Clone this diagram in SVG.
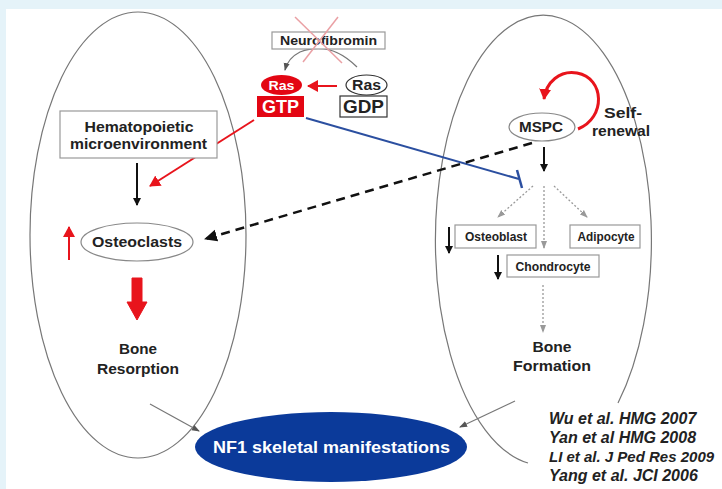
<svg xmlns="http://www.w3.org/2000/svg" width="722" height="489" viewBox="0 0 722 489">
<defs>
<style>
text{font-family:"Liberation Sans",Arial,sans-serif;font-weight:bold;fill:#222;text-anchor:middle}
.thin{fill:none;stroke:#777;stroke-width:1.2}
.box{fill:#fff;stroke:#999;stroke-width:1.2}
.blk{fill:none;stroke:#111;stroke-width:2}
.dot{fill:none;stroke:#999;stroke-width:1.3;stroke-dasharray:2 2}
.ref{font-style:italic;text-anchor:start;font-size:16px}
</style>
<marker id="ah" markerWidth="8" markerHeight="8" refX="7" refY="4" orient="auto" markerUnits="userSpaceOnUse"><path d="M0,0 L8,4 L0,8 Z" fill="#111"/></marker>
<marker id="ahg" markerWidth="8" markerHeight="8" refX="7" refY="4" orient="auto" markerUnits="userSpaceOnUse"><path d="M0,1 L8,4 L0,7 Z" fill="#555"/></marker>
<marker id="ahd" markerWidth="8" markerHeight="8" refX="7" refY="4" orient="auto" markerUnits="userSpaceOnUse"><path d="M0,1 L8,4 L0,7 Z" fill="#999"/></marker>
<marker id="ahr" markerWidth="12" markerHeight="12" refX="10" refY="6" orient="auto" markerUnits="userSpaceOnUse"><path d="M0,0 L11,6 L0,12 Z" fill="#e8141c"/></marker>
<marker id="ahk" markerWidth="14" markerHeight="14" refX="12" refY="7" orient="auto" markerUnits="userSpaceOnUse"><path d="M0,1 L13,7 L0,13 Z" fill="#111"/></marker>
</defs>
<rect width="722" height="489" fill="#e5f3f9"/>
<rect x="6" y="9" width="716" height="480" fill="#fff"/>

<g id="compartments">
<ellipse cx="138" cy="235" rx="108" ry="223" fill="none" stroke="#777" stroke-width="1.2"/>
<path d="M618,403 A108,225 0 1 0 528,463" fill="none" stroke="#777" stroke-width="1.2"/>
</g>

<g id="connectors">
<path d="M357,67 Q330,40 300,52 Q288,58 285,70" class="thin" marker-end="url(#ahg)"/>
<line x1="337" y1="86" x2="308" y2="86" stroke="#e8141c" stroke-width="2" marker-end="url(#ahr)"/>
<line x1="254" y1="120" x2="150" y2="186" stroke="#e8141c" stroke-width="2" marker-end="url(#ahr)"/>
<line x1="306" y1="118" x2="519" y2="179" stroke="#2b4fa0" stroke-width="2"/>
<line x1="517" y1="170" x2="522" y2="188" stroke="#2b4fa0" stroke-width="2.5"/>
<line x1="137" y1="163" x2="137" y2="205" class="blk" marker-end="url(#ah)"/>
<line x1="69" y1="260" x2="69" y2="227" stroke="#e8141c" stroke-width="2" marker-end="url(#ahr)"/>
<line x1="532" y1="143" x2="205" y2="239" stroke="#111" stroke-width="2.5" stroke-dasharray="9 6" marker-end="url(#ahk)"/>
<path d="M132,278 L142,278 L142,302 L147,302 L137,320 L127,302 L132,302 Z" fill="#e8141c" stroke="#e8141c" stroke-width="1" stroke-linejoin="round"/>
<line x1="150" y1="404" x2="199" y2="431" class="thin" marker-end="url(#ahg)"/>
<path d="M578,129 C606,118 605,78 577,73 C560,70 546,82 544,99" fill="none" stroke="#e8141c" stroke-width="3" marker-end="url(#ahr)"/>
<line x1="544" y1="147" x2="544" y2="171" class="blk" marker-end="url(#ah)"/>
<line x1="533" y1="186" x2="498" y2="217" class="dot" marker-end="url(#ahd)"/>
<line x1="544" y1="186" x2="544" y2="248" class="dot" marker-end="url(#ahd)"/>
<line x1="554" y1="186" x2="587" y2="217" class="dot" marker-end="url(#ahd)"/>
<line x1="449" y1="227" x2="449" y2="253" class="blk" marker-end="url(#ah)"/>
<line x1="498" y1="255" x2="498" y2="279" class="blk" marker-end="url(#ah)"/>
<line x1="543" y1="285" x2="543" y2="332" class="dot" marker-end="url(#ahd)"/>
<line x1="515" y1="401" x2="460" y2="427" class="thin" marker-end="url(#ahg)"/>
</g>

<g id="neurofibromin">
<rect x="272" y="32" width="113" height="17" class="box"/>
<text x="328.5" y="45" font-size="13.5" textLength="97" lengthAdjust="spacingAndGlyphs">Neurofibromin</text>
<line x1="295" y1="17" x2="342" y2="63" stroke="#eaa0a4" stroke-width="1.5"/>
<line x1="338" y1="17" x2="303" y2="62" stroke="#eaa0a4" stroke-width="1.5"/>
</g>

<g id="ras-gtp">
<ellipse cx="281.5" cy="85" rx="20.5" ry="10" fill="#e30613"/>
<text x="281.5" y="90" font-size="13.5" textLength="26" lengthAdjust="spacingAndGlyphs" style="fill:#fff">Ras</text>
<rect x="257" y="96" width="47" height="21" fill="#e30613"/>
<text x="280.5" y="113" font-size="18" textLength="37" lengthAdjust="spacingAndGlyphs" style="fill:#fff">GTP</text>
</g>

<g id="ras-gdp">
<ellipse cx="366.5" cy="85" rx="20.5" ry="10" fill="#fff" stroke="#333" stroke-width="1.2"/>
<text x="366.5" y="90" font-size="14" textLength="29" lengthAdjust="spacingAndGlyphs">Ras</text>
<rect x="340" y="96" width="47" height="21" fill="#fff" stroke="#333" stroke-width="1.2"/>
<text x="363.5" y="113" font-size="18" textLength="41" lengthAdjust="spacingAndGlyphs">GDP</text>
</g>

<g id="hematopoietic">
<rect x="60" y="111" width="157" height="47" class="box"/>
<text x="139" y="132" font-size="15" textLength="109" lengthAdjust="spacingAndGlyphs">Hematopoietic</text>
<text x="138.5" y="149" font-size="15" textLength="137" lengthAdjust="spacingAndGlyphs">microenvironment</text>
</g>

<g id="osteoclasts">
<ellipse cx="137" cy="242" rx="56" ry="19" fill="#fff" stroke="#888" stroke-width="1.2"/>
<text x="137" y="247" font-size="15" textLength="90" lengthAdjust="spacingAndGlyphs">Osteoclasts</text>
</g>

<g id="bone-resorption">
<text x="138" y="354" font-size="15" textLength="38" lengthAdjust="spacingAndGlyphs">Bone</text>
<text x="138" y="374" font-size="15" textLength="82" lengthAdjust="spacingAndGlyphs">Resorption</text>
</g>

<g id="nf1">
<ellipse cx="331" cy="447" rx="136" ry="35" fill="#0b3a9a"/>
<text x="331.5" y="453" font-size="16.5" textLength="237" lengthAdjust="spacingAndGlyphs" style="fill:#fff">NF1 skeletal manifestations</text>
</g>

<g id="mspc">
<ellipse cx="542" cy="127" rx="33" ry="14" fill="#fff" stroke="#888" stroke-width="1.2"/>
<text x="541" y="132" font-size="15" textLength="44" lengthAdjust="spacingAndGlyphs">MSPC</text>
</g>

<g id="self-renewal">
<text x="623" y="118" font-size="15" textLength="38" lengthAdjust="spacingAndGlyphs">Self-</text>
<text x="621" y="136" font-size="15" textLength="58" lengthAdjust="spacingAndGlyphs">renewal</text>
</g>

<g id="osteoblast">
<rect x="455" y="225" width="81" height="23" class="box"/>
<text x="496" y="241" font-size="12" textLength="62" lengthAdjust="spacingAndGlyphs">Osteoblast</text>
</g>

<g id="adipocyte">
<rect x="570" y="225" width="70" height="23" class="box"/>
<text x="606" y="241" font-size="12" textLength="57" lengthAdjust="spacingAndGlyphs">Adipocyte</text>
</g>

<g id="chondrocyte">
<rect x="507" y="255" width="92" height="22" class="box"/>
<text x="553" y="271" font-size="12" textLength="75" lengthAdjust="spacingAndGlyphs">Chondrocyte</text>
</g>

<g id="bone-formation">
<text x="552" y="352" font-size="15.5" textLength="39" lengthAdjust="spacingAndGlyphs">Bone</text>
<text x="552" y="371" font-size="15.5" textLength="78" lengthAdjust="spacingAndGlyphs">Formation</text>
</g>

<g id="references">
<text x="549" y="424" class="ref">Wu et al. HMG 2007</text>
<text x="549" y="443" class="ref">Yan et al HMG 2008</text>
<text x="549" y="462" class="ref" style="font-size:15px">LI et al. J Ped Res 2009</text>
<text x="549" y="481" class="ref">Yang et al. JCI 2006</text>
</g>
</svg>
